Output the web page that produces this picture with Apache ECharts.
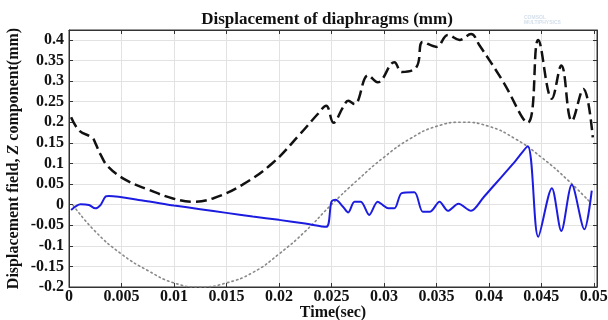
<!DOCTYPE html>
<html>
<head>
<meta charset="utf-8">
<script src="https://cdn.jsdelivr.net/npm/echarts@6/dist/echarts.min.js"></script>
<style>html,body{margin:0;padding:0;background:#fff}#c{width:608px;height:320px}</style>
</head>
<body>
<div id="c"></div>
<script>
// Time (sec) / value (mm) pairs
const dashedT = [0.0002,0.001,0.0022,0.0025,0.003,0.0037,0.0054,0.0076,0.0099,0.0118,0.0137,0.0165,0.0194,0.022,0.0237,0.0245,0.0252,0.0261,0.0266,0.0272,0.0285,0.0294,0.031,0.0317,0.0331,0.0337,0.035,0.0361,0.0372,0.0383,0.0391,0.0413,0.0437,0.0447,0.046,0.0469,0.0479,0.049,0.0499];
const dashedV = [0.212,0.179,0.163,0.150,0.122,0.093,0.060,0.036,0.015,0.007,0.015,0.048,0.101,0.171,0.220,0.240,0.199,0.236,0.252,0.244,0.314,0.297,0.346,0.322,0.334,0.395,0.383,0.412,0.400,0.414,0.387,0.301,0.199,0.400,0.257,0.338,0.203,0.281,0.163];

const blueT = [0.0002,0.0011,0.0019,0.0025,0.003,0.0035,0.0038,0.007,0.01,0.0125,0.015,0.0175,0.02,0.0225,0.0245,0.025,0.0254,0.0261,0.0266,0.0272,0.0278,0.0286,0.0294,0.0299,0.0304,0.031,0.0317,0.0329,0.0337,0.0344,0.0353,0.0361,0.0371,0.0383,0.0395,0.0405,0.0415,0.0425,0.0437,0.0447,0.046,0.0469,0.0479,0.0491,0.0498];
const blueV = [-0.013,0.001,-0.001,-0.009,-0.001,0.020,0.021,0.010,-0.002,-0.011,-0.020,-0.029,-0.037,-0.046,-0.054,0.007,0.012,-0.005,-0.019,0.007,0.007,-0.025,0.007,-0.001,-0.009,-0.009,0.028,0.030,-0.017,-0.017,0.007,-0.015,0.002,-0.015,0.018,0.047,0.076,0.105,0.142,-0.078,0.040,-0.064,0.048,-0.060,0.034];

const dotT = [0.0004,0.0025,0.005,0.0075,0.01,0.0125,0.015,0.0175,0.02,0.0225,0.025,0.0275,0.03,0.0325,0.035,0.0375,0.04,0.0425,0.045,0.0475,0.0496];
const dotV = [-0.002,-0.065,-0.12,-0.16,-0.19,-0.2,-0.19,-0.165,-0.12,-0.065,0.0,0.06,0.115,0.16,0.19,0.2,0.19,0.16,0.115,0.06,0.007];

const titleText = 'Displacement of diaphragms (mm)';
const xName = 'Time(sec)';

const pair = (t, v) => t.map((x, i) => [x, v[i]]);
const font = '"Liberation Serif","Times New Roman",serif';
const lbl = {fontFamily: font, fontWeight: 'bold', fontSize: 16, color: '#111'};

const chart = echarts.init(document.getElementById('c'), null, {renderer: 'canvas'});
chart.setOption({
  animation: false,
  backgroundColor: '#fff',
  title: {text: titleText, left: 322, top: 6, textAlign: 'center',
    textStyle: {fontFamily: font, fontWeight: 'bold', fontSize: 17, color: '#111'}},
  graphic: [{
    type: 'text', left: 524, top: 15,
    style: {text: 'COMSOL\nMULTIPHYSICS', fill: '#d3deeb', font: 'bold 5px sans-serif', align: 'right'}
  }],
  grid: {left: 69, right: 11, top: 30, bottom: 33, outerBoundsMode: 'none',
    show: true, borderColor: '#333', borderWidth: 1, backgroundColor: 'transparent'},
  xAxis: [{
    type: 'value', min: 0, max: 0.0503, interval: 0.005,
    name: xName, nameLocation: 'middle', nameGap: 18, nameMoveOverlap: false,
    nameTextStyle: {fontFamily: font, fontWeight: 'bold', fontSize: 16, color: '#111'},
    axisLine: {onZero: false, lineStyle: {color: '#333'}},
    axisTick: {inside: true, length: 4, lineStyle: {color: '#333'}},
    axisLabel: Object.assign({margin: 2, showMaxLabel: false}, lbl),
    splitLine: {show: true, lineStyle: {color: '#e2e2e2', width: 1}}
  }, {
    type: 'value', position: 'top', min: 0, max: 0.0503, interval: 0.005,
    axisLine: {show: true, onZero: false, lineStyle: {color: '#333'}},
    axisTick: {inside: true, length: 4, lineStyle: {color: '#333'}},
    axisLabel: {show: false}, splitLine: {show: false}
  }],
  yAxis: [{
    type: 'value', min: -0.2, max: 0.424, interval: 0.05,
    name: '{a|Displacement field, }{z|Z}{a| component(mm)}',
    nameLocation: 'middle', nameGap: 47, nameRotate: 90, nameMoveOverlap: false,
    nameTextStyle: {rich: {
      a: {fontFamily: font, fontWeight: 'bold', fontSize: 16, color: '#111'},
      z: {fontFamily: font, fontWeight: 'bold', fontStyle: 'italic', fontSize: 16, color: '#111'}
    }},
    axisLine: {show: true, onZero: false, lineStyle: {color: '#333'}},
    axisTick: {show: true, inside: true, length: 4, lineStyle: {color: '#333'}},
    axisLabel: Object.assign({margin: 5, showMaxLabel: false}, lbl),
    splitLine: {show: true, lineStyle: {color: '#e2e2e2', width: 1}}
  }, {
    type: 'value', position: 'right', min: -0.2, max: 0.424, interval: 0.05,
    axisLine: {show: true, onZero: false, lineStyle: {color: '#333'}},
    axisTick: {show: true, inside: true, length: 4, lineStyle: {color: '#333'}},
    axisLabel: {show: false}, splitLine: {show: false}
  }],
  series: [{
    type: 'line', data: pair(dotT, dotV), smooth: 0.5, showSymbol: false,
    lineStyle: {color: '#888', width: 1.6, type: [1.5, 3.2], cap: 'round'}
  }, {
    type: 'line', data: pair(dashedT, dashedV), smooth: 0.4, showSymbol: false,
    lineStyle: {color: '#111', width: 2.5, type: [11, 5]}
  }, {
    type: 'line', data: pair(blueT, blueV), smooth: 0.3, showSymbol: false,
    lineStyle: {color: '#1c1ce0', width: 2}
  }]
});
</script>
</body>
</html>
